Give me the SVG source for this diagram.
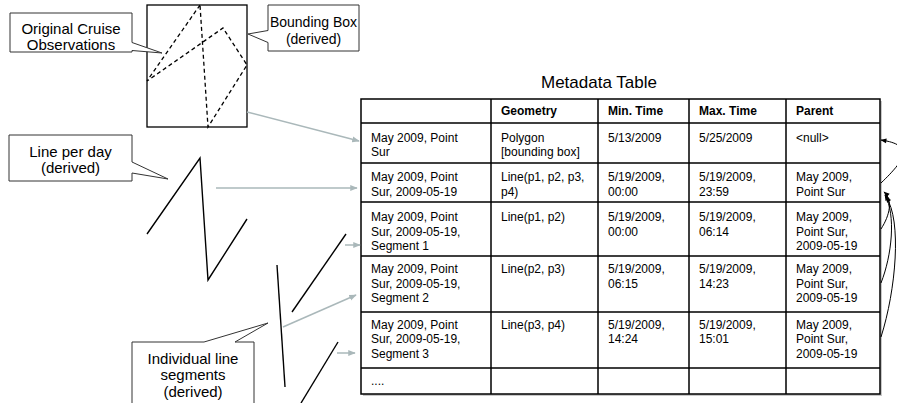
<svg xmlns="http://www.w3.org/2000/svg" width="897" height="403" viewBox="0 0 897 403">
<defs>
<style>
.t{font-family:"Liberation Sans",Arial,sans-serif;font-size:12px;fill:#000}
.b{font-weight:bold}
.c{font-family:"Liberation Sans",Arial,sans-serif;font-size:15px;fill:#000;text-anchor:middle}
.s{font-size:14px}
.h{font-family:"Liberation Sans",Arial,sans-serif;font-size:17px;fill:#000}
.callout{fill:#fff;stroke:#333;stroke-width:1}
.grey{stroke:#aab8ba;stroke-width:1.5;fill:none;marker-end:url(#ga)}
.blk{stroke:#000;stroke-width:1;fill:none;marker-end:url(#ba)}
.geo{stroke:#000;stroke-width:1.4;fill:none}
.dash{stroke:#000;stroke-width:1.3;fill:none;stroke-dasharray:4,3}
.grid{stroke:#000;stroke-width:1.5;fill:none}
</style>
<marker id="ga" viewBox="0 0 10 10" refX="9" refY="5" markerWidth="5" markerHeight="5" orient="auto" markerUnits="strokeWidth">
<path d="M0,1 L10,5 L0,9 z" fill="#aab8ba"/>
</marker>
<marker id="ba" viewBox="0 0 10 10" refX="9" refY="5" markerWidth="8" markerHeight="6" orient="auto" markerUnits="strokeWidth">
<path d="M0,1 L10,5 L0,9 z" fill="#000"/>
</marker>
</defs>
<rect width="897" height="403" fill="#fff"/>

<g id="bounding-box">
<rect x="147" y="5" width="100" height="122" fill="#fff" stroke="#000" stroke-width="1.3"/>
<path class="dash" d="M200,5 L147,81 L223,28 L247,65 L208,127 Z"/>
</g>

<g id="callout-original">
<path class="callout" d="M10,13 H132 V42.5 L162,53 L132,50.5 V52 H10 Z"/>
<text class="c" x="71" y="34">Original Cruise</text>
<text class="c" x="71" y="50">Observations</text>
</g>

<g id="callout-bbox">
<path class="callout" d="M268,5 H359 V51 H268 V42.5 L248,34 L268,30.5 Z"/>
<text class="c s" x="313.5" y="27">Bounding Box</text>
<text class="c s" x="313.5" y="44">(derived)</text>
</g>

<g id="line-per-day">
<path class="geo" d="M147,234 L200,158 L208,280 L247,219"/>
</g>

<g id="callout-line">
<path class="callout" d="M9,135 H132 V162 L168,179 L132,173 V181 H9 Z"/>
<text class="c" x="70.5" y="157">Line per day</text>
<text class="c" x="70.5" y="173">(derived)</text>
</g>

<g id="segments">
<path class="geo" d="M292,312 L346,234" stroke-width="1.1"/>
<path class="geo" d="M277,265 L285,387" stroke-width="1.1"/>
<path class="geo" d="M301,403 L338,342" stroke-width="1.1"/>
</g>

<g id="callout-segments">
<path class="callout" d="M132,342 H204 L268,323 L235,342 H254 V410 H132 Z"/>
<text class="c" x="193" y="364">Individual line</text>
<text class="c" x="193" y="380">segments</text>
<text class="c" x="193" y="397">(derived)</text>
</g>

<g id="metadata-table">
<text class="h" x="541" y="88">Metadata Table</text>
<rect x="363" y="101" width="519" height="295" fill="#c8c8c8"/>
<rect x="361" y="99" width="519" height="295" fill="#fff"/>
<path class="grid" d="M361,99 H880 V394 H361 Z M361,123 H880 M361,163 H880 M361,202 H880 M361,256 H880 M361,312 H880 M361,368 H880 M491,99 V394 M598,99 V394 M689,99 V394 M786,99 V394"/>
<text class="t b" x="501" y="115">Geometry</text>
<text class="t b" x="608" y="115">Min. Time</text>
<text class="t b" x="699" y="115">Max. Time</text>
<text class="t b" x="796" y="115">Parent</text>

<text class="t" x="371" y="142">May 2009, Point<tspan x="371" dy="14">Sur</tspan></text>
<text class="t" x="501" y="142">Polygon<tspan x="501" dy="14">[bounding box]</tspan></text>
<text class="t" x="608" y="142">5/13/2009</text>
<text class="t" x="699" y="142">5/25/2009</text>
<text class="t" x="796" y="142">&lt;null&gt;</text>

<text class="t" x="371" y="181">May 2009, Point<tspan x="371" dy="14.5">Sur, 2009-05-19</tspan></text>
<text class="t" x="501" y="181">Line(p1, p2, p3,<tspan x="501" dy="14.5">p4)</tspan></text>
<text class="t" x="608" y="181">5/19/2009,<tspan x="608" dy="14.5">00:00</tspan></text>
<text class="t" x="699" y="181">5/19/2009,<tspan x="699" dy="14.5">23:59</tspan></text>
<text class="t" x="796" y="181">May 2009,<tspan x="796" dy="14.5">Point Sur</tspan></text>

<text class="t" x="371" y="221">May 2009, Point<tspan x="371" dy="14.5">Sur, 2009-05-19,</tspan><tspan x="371" dy="14.5">Segment 1</tspan></text>
<text class="t" x="501" y="221">Line(p1, p2)</text>
<text class="t" x="608" y="221">5/19/2009,<tspan x="608" dy="14.5">00:00</tspan></text>
<text class="t" x="699" y="221">5/19/2009,<tspan x="699" dy="14.5">06:14</tspan></text>
<text class="t" x="796" y="221">May 2009,<tspan x="796" dy="14.5">Point Sur,</tspan><tspan x="796" dy="14.5">2009-05-19</tspan></text>

<text class="t" x="371" y="273">May 2009, Point<tspan x="371" dy="14.5">Sur, 2009-05-19,</tspan><tspan x="371" dy="14.5">Segment 2</tspan></text>
<text class="t" x="501" y="273">Line(p2, p3)</text>
<text class="t" x="608" y="273">5/19/2009,<tspan x="608" dy="14.5">06:15</tspan></text>
<text class="t" x="699" y="273">5/19/2009,<tspan x="699" dy="14.5">14:23</tspan></text>
<text class="t" x="796" y="273">May 2009,<tspan x="796" dy="14.5">Point Sur,</tspan><tspan x="796" dy="14.5">2009-05-19</tspan></text>

<text class="t" x="371" y="328.5">May 2009, Point<tspan x="371" dy="14.5">Sur, 2009-05-19,</tspan><tspan x="371" dy="14.5">Segment 3</tspan></text>
<text class="t" x="501" y="328.5">Line(p3, p4)</text>
<text class="t" x="608" y="328.5">5/19/2009,<tspan x="608" dy="14.5">14:24</tspan></text>
<text class="t" x="699" y="328.5">5/19/2009,<tspan x="699" dy="14.5">15:01</tspan></text>
<text class="t" x="796" y="328.5">May 2009,<tspan x="796" dy="14.5">Point Sur,</tspan><tspan x="796" dy="14.5">2009-05-19</tspan></text>

<text class="t" x="371" y="385">....</text>
</g>

<g id="connectors">
<path class="grey" d="M247,112 L359,141"/>
<path class="grey" d="M216,188 L357,188"/>
<path class="grey" d="M345,245 L360,245"/>
<path class="grey" d="M283,327 L356,295"/>
<path class="grey" d="M337,353 L355,353"/>
<path class="blk" d="M881,183 C905,160 915,145 881,140"/>
<path class="blk" d="M881,229 C890,215 893,200 884,192"/>
<path class="blk" d="M881,283 C892,255 896,215 885,195"/>
<path class="blk" d="M881,337 C896,290 902,220 886,197"/>
</g>
</svg>
